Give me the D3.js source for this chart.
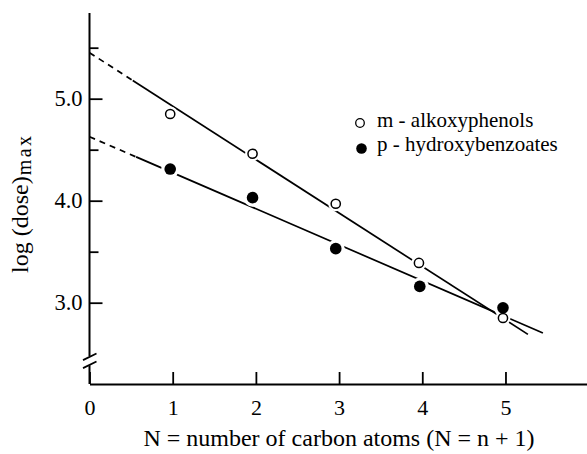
<!DOCTYPE html>
<html>
<head>
<meta charset="utf-8">
<script src="https://cdn.jsdelivr.net/npm/d3@7"></script>
<style>
  body { margin: 0; background: #fff; }
  svg text { font-family: "Liberation Serif", "Times New Roman", serif; fill: #000; }
</style>
</head>
<body>
<svg id="chart" width="587" height="454"></svg>
<script>
// values (markers sit a touch left of the ticks)
const alkoxyN = [0.97, 1.96, 2.96, 3.96, 4.97]
const alkoxyDose = [4.85, 4.46, 3.97, 3.39, 2.85]
const benzoN = [0.97, 1.96, 2.96, 3.97, 4.97]
const benzoDose = [4.31, 4.03, 3.53, 3.16, 2.95]

// fitted lines: [intercept at N=0, slope per carbon, end of dashed part, end of line]
const alkoxyFit = [5.451, -0.524, 0.52, 5.27]
const benzoFit = [4.627, -0.353, 0.56, 5.45]

const xTicks = [0, 1, 2, 3, 4, 5]
const yTicks = [3.0, 4.0, 5.0]
const yMinorTicks = [3.5, 4.5, 5.5]
const yBreak = 2.43

const legendLabels = ['m - alkoxyphenols', 'p - hydroxybenzoates']

const svg = d3.select('#chart')

const x = d3.scaleLinear().domain([0, 5.986]).range([89.5, 587.5])
const y = d3.scaleLinear().domain([2.203, 5.84]).range([384, 13])

// x axis
const gx = svg.append('g')
  .attr('transform', `translate(0,${y.range()[0]})`)
  .call(d3.axisBottom(x).tickValues(xTicks).tickSize(-12).tickSizeOuter(0)
    .tickPadding(15.5).tickFormat(d3.format('d')))
gx.attr('font-size', 22)
gx.select('.domain').attr('stroke-width', 2)
gx.selectAll('.tick line').attr('stroke-width', 1.8)

// y axis (ticks point inwards, line drawn by hand for the break)
const x0 = x(0)
const gy = svg.append('g')
  .attr('transform', `translate(${x0},0)`)
  .call(d3.axisLeft(y).tickValues(yTicks).tickSize(-13).tickPadding(7)
    .tickFormat(d3.format('.1f')))
gy.attr('font-size', 22.5)
gy.select('.domain').remove()
gy.selectAll('.tick line').attr('stroke-width', 1.8)

const gyMinor = svg.append('g')
  .attr('transform', `translate(${x0},0)`)
  .call(d3.axisLeft(y).tickValues(yMinorTicks).tickSize(-9).tickFormat(''))
gyMinor.select('.domain').remove()
gyMinor.selectAll('.tick line').attr('stroke-width', 1.8)

const yb = y(yBreak)
svg.append('line')
  .attr('x1', x0).attr('x2', x0)
  .attr('y1', y.range()[1]).attr('y2', yb - 4.5)
  .attr('stroke', '#000').attr('stroke-width', 2)
svg.append('line')
  .attr('x1', x0).attr('x2', x0)
  .attr('y1', yb + 4.5).attr('y2', y.range()[0])
  .attr('stroke', '#000').attr('stroke-width', 2)
svg.selectAll('.brk')
  .data([-4, 4])
  .enter()
  .append('line')
  .attr('x1', x0 - 6.5).attr('x2', x0 + 7)
  .attr('y1', d => yb + d + 3.3).attr('y2', d => yb + d - 3.3)
  .attr('stroke', '#000').attr('stroke-width', 1.8)

// fitted lines
const fitLine = d3.line().x(d => x(d[0])).y(d => y(d[1]))
function drawFit (fit) {
  const at = n => [n, fit[0] + fit[1] * n]
  svg.append('path')
    .attr('d', fitLine([at(0), at(fit[2])]))
    .attr('fill', 'none').attr('stroke', '#000').attr('stroke-width', 1.7)
    .attr('stroke-dasharray', '6,5')
  svg.append('path')
    .attr('d', fitLine([at(fit[2]), at(fit[3])]))
    .attr('fill', 'none').attr('stroke', '#000').attr('stroke-width', 1.7)
}
drawFit(alkoxyFit)
drawFit(benzoFit)

const alkoxyPts = alkoxyN.map((n, i) => [n, alkoxyDose[i]])
const benzoPts = benzoN.map((n, i) => [n, benzoDose[i]])

// white halos break the lines around the markers
svg.selectAll('.haloA')
  .data(alkoxyPts).enter().append('circle')
  .attr('cx', d => x(d[0])).attr('cy', d => y(d[1])).attr('r', 7.5)
  .attr('fill', '#fff')
svg.selectAll('.haloB')
  .data(benzoPts).enter().append('circle')
  .attr('cx', d => x(d[0])).attr('cy', d => y(d[1])).attr('r', 9)
  .attr('fill', '#fff')

svg.selectAll('.ptA')
  .data(alkoxyPts).enter().append('circle')
  .attr('cx', d => x(d[0])).attr('cy', d => y(d[1])).attr('r', 4.6)
  .attr('fill', '#fff').attr('stroke', '#000').attr('stroke-width', 1.5)
svg.selectAll('.ptB')
  .data(benzoPts).enter().append('circle')
  .attr('cx', d => x(d[0])).attr('cy', d => y(d[1])).attr('r', 5.8)
  .attr('fill', '#000')

// legend
const legend = svg.append('g')
legend.append('circle').attr('cx', 360).attr('cy', 123).attr('r', 4.3)
  .attr('fill', '#fff').attr('stroke', '#000').attr('stroke-width', 1.3)
legend.append('circle').attr('cx', 361.5).attr('cy', 148.5).attr('r', 5.3)
  .attr('fill', '#000')
legend.selectAll('text')
  .data(legendLabels).enter().append('text')
  .attr('x', 377).attr('y', (d, i) => 127 + i * 24)
  .attr('font-size', 21)
  .text(d => d)

// axis titles
svg.append('text')
  .attr('x', 339).attr('y', 446)
  .attr('text-anchor', 'middle')
  .attr('font-size', 24)
  .text('N = number of carbon atoms (N = n + 1)')

const yt = svg.append('text')
  .attr('transform', 'translate(28,273) rotate(-90)')
  .attr('font-size', 24)
yt.append('tspan').text('log (dose)')
yt.append('tspan').attr('font-size', 20).attr('dy', 3).attr('dx', 1)
  .attr('letter-spacing', 2.5).text('max')
</script>
</body>
</html>
